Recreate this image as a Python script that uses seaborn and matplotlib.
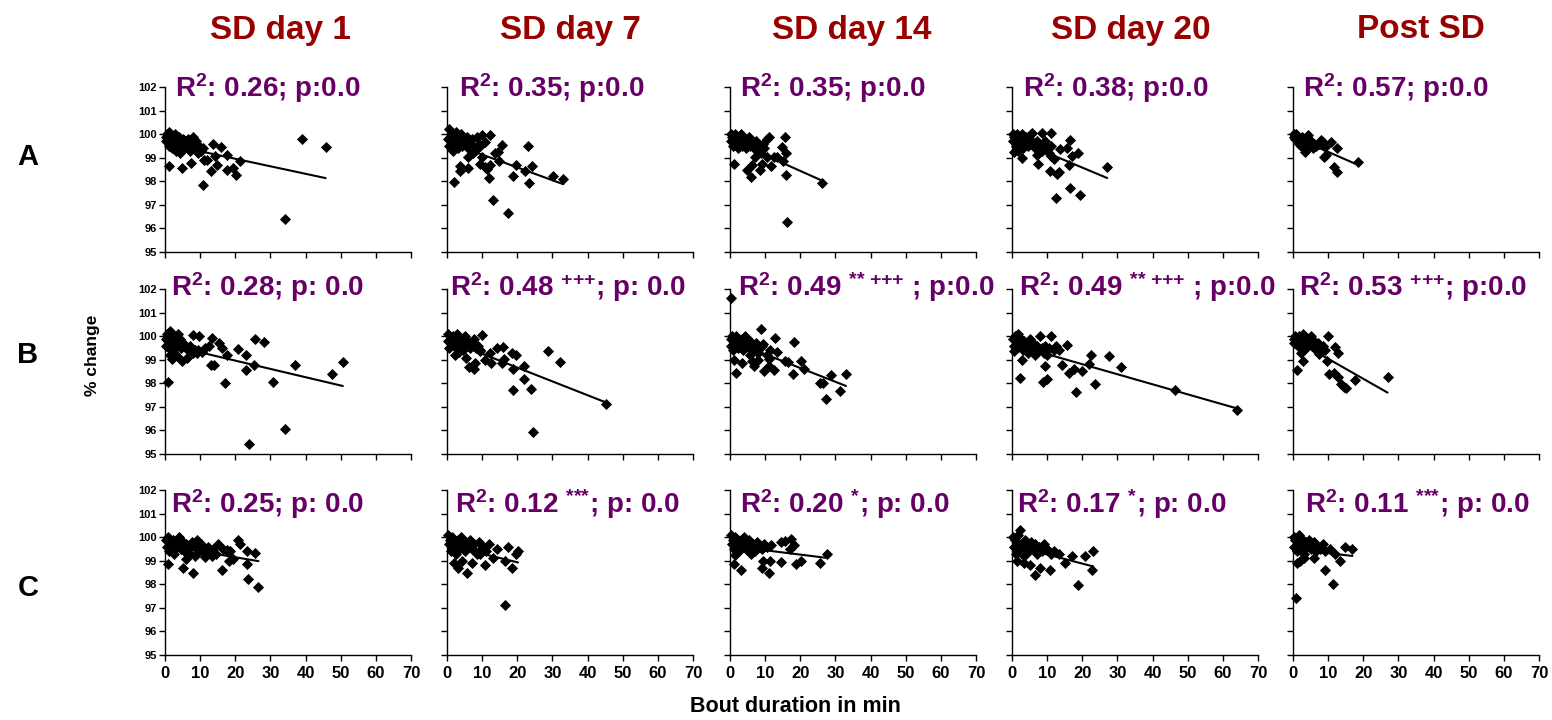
import matplotlib
matplotlib.use("Agg")
import matplotlib.pyplot as plt
import seaborn as sns
import pandas as pd

# ---------------------------------------------------------------- data
columns = ["SD day 1", "SD day 7", "SD day 14", "SD day 20", "Post SD"]
rows = ["A", "B", "C"]

# (bout duration in min, % change) per group and day
a_day1 = [(0.2, 99.9), (0.4, 99.7), (0.6, 100.0), (0.8, 99.8), (1.0, 99.5), (1.2, 100.1),
          (1.4, 99.7), (1.7, 99.9), (2.0, 99.4), (2.2, 99.8), (2.5, 99.6), (2.8, 100.0),
          (3.0, 99.3), (3.3, 99.7), (3.6, 99.5), (4.0, 99.9), (4.3, 99.2), (4.6, 99.6),
          (5.0, 99.8), (5.4, 99.4), (5.8, 99.7), (6.2, 99.5), (6.6, 99.8), (7.0, 99.3),
          (7.5, 99.6), (8.0, 99.9), (8.4, 99.4), (8.8, 99.7), (9.3, 99.2), (9.8, 99.5),
          (10.3, 99.3), (10.8, 99.4), (1.0, 98.66), (4.7, 98.58), (7.3, 98.76), (10.7, 97.84),
          (11.2, 98.9), (11.9, 98.9), (13.1, 98.45), (13.8, 99.6), (14.2, 99.07), (14.7, 98.7),
          (15.8, 99.44), (17.6, 98.48), (17.6, 99.1), (19.3, 98.58), (20.2, 98.26), (21.3, 98.87),
          (34.2, 96.38), (38.9, 99.78), (45.7, 99.44)]
a_day7 = [(0.3, 99.8), (0.5, 99.5), (0.7, 100.2), (0.9, 99.9), (1.1, 99.6), (1.4, 100.0),
          (1.7, 99.3), (2.0, 99.8), (2.3, 99.6), (2.6, 100.1), (3.0, 99.4), (3.3, 99.9),
          (3.6, 99.7), (4.0, 100.0), (4.4, 99.5), (4.8, 99.8), (5.2, 99.6), (5.6, 99.9),
          (6.0, 99.4), (6.5, 99.7), (7.0, 99.8), (7.5, 99.5), (8.0, 99.3), (8.5, 99.9),
          (9.0, 99.6), (9.5, 99.5), (10.0, 99.97), (10.9, 99.68), (12.1, 99.97), (1.5, 99.4),
          (1.9, 97.98), (3.6, 98.45), (3.8, 98.66), (6.1, 98.58), (6.1, 99.02), (7.4, 99.22),
          (9.5, 98.73), (9.9, 99.02), (10.7, 98.62), (11.4, 98.52), (12.0, 98.12), (12.1, 98.7),
          (12.96, 97.2), (13.7, 99.2), (14.4, 99.26), (14.9, 98.88), (15.6, 99.54), (17.5, 96.66),
          (18.9, 98.22), (19.6, 98.7), (22.2, 98.45), (23.0, 99.5), (23.4, 97.94), (24.1, 98.66),
          (30.1, 98.22), (33.1, 98.08)]
a_day14 = [(0.2, 100.0), (0.4, 99.7), (0.6, 99.9), (0.8, 99.5), (1.0, 99.8), (1.3, 100.0),
           (1.6, 99.6), (1.9, 99.8), (2.2, 99.4), (2.5, 99.9), (2.8, 99.7), (3.1, 100.0),
           (3.4, 99.5), (3.8, 99.8), (4.2, 99.6), (4.6, 99.4), (5.0, 99.7), (5.4, 99.9),
           (5.8, 99.5), (6.3, 99.6), (6.8, 99.4), (7.3, 99.7), (7.8, 99.3), (8.3, 99.5),
           (8.8, 99.2), (9.3, 99.6), (9.8, 99.4), (1.1, 98.72), (4.8, 98.48), (5.9, 98.19),
           (6.2, 98.69), (7.1, 99.02), (8.4, 98.5), (9.0, 98.72), (9.0, 99.33), (10.5, 99.78),
           (11.2, 99.9), (10.5, 99.05), (11.7, 98.65), (12.4, 99.02), (13.3, 99.02), (14.8, 99.44),
           (15.0, 98.84), (15.7, 99.9), (16.0, 99.22), (16.0, 98.26), (16.2, 96.28), (26.2, 97.94)]
a_day20 = [(0.2, 100.0), (0.4, 99.7), (0.7, 99.9), (1.0, 99.5), (1.3, 100.0), (1.6, 99.3),
           (2.0, 99.8), (2.4, 99.6), (2.8, 100.0), (3.2, 99.4), (3.6, 99.7), (4.0, 99.9),
           (4.5, 99.5), (5.0, 99.8), (5.5, 100.0), (6.0, 99.6), (6.5, 99.4), (7.0, 99.7),
           (7.5, 99.5), (8.0, 99.6), (8.5, 99.3), (9.0, 99.5), (9.5, 99.7), (10.0, 99.4),
           (10.5, 99.2), (11.0, 99.5), (0.5, 99.26), (2.9, 98.98), (5.7, 100.04), (8.6, 100.04),
           (11.1, 100.04), (7.1, 99.12), (7.4, 98.72), (10.8, 98.43), (13.3, 98.4), (12.7, 98.3),
           (12.6, 97.3), (13.8, 99.37), (15.7, 99.4), (16.5, 99.76), (16.5, 97.7), (16.2, 98.69),
           (17.1, 99.07), (18.8, 99.22), (19.3, 97.4), (11.9, 98.93), (11.0, 99.07), (27.1, 98.62)]
a_post = [(0.2, 100.0), (0.4, 99.9), (0.6, 99.8), (0.9, 100.0), (1.2, 99.7), (1.5, 99.9),
          (1.8, 99.6), (2.1, 99.8), (2.4, 99.5), (2.7, 99.9), (3.0, 99.7), (3.3, 99.4),
          (3.6, 99.8), (4.0, 99.6), (4.4, 99.97), (4.8, 99.5), (5.2, 99.7), (5.6, 99.4),
          (6.0, 99.6), (6.5, 99.5), (3.3, 99.26), (8.1, 99.76), (9.0, 99.47), (8.8, 99.02),
          (9.5, 99.1), (10.8, 99.68), (12.4, 99.4), (11.7, 98.62), (12.4, 98.4), (18.4, 98.8),
          (7.5, 99.6), (8.5, 99.65)]

b_day1 = [(0.2, 99.9), (0.4, 99.6), (0.6, 100.1), (0.9, 99.8), (1.2, 99.5), (1.5, 100.2),
          (1.8, 99.7), (2.1, 99.9), (2.4, 99.4), (2.7, 100.0), (3.0, 99.8), (3.4, 99.6),
          (3.8, 100.1), (4.2, 99.9), (4.6, 99.5), (5.0, 99.7), (5.5, 99.6), (6.0, 99.5),
          (6.5, 99.4), (7.0, 99.6), (7.5, 99.5), (8.0, 99.3), (8.6, 99.4), (9.2, 99.3),
          (0.9, 98.06), (1.9, 99.05), (1.4, 99.19), (2.8, 99.24), (3.3, 99.14), (4.7, 98.93),
          (6.2, 99.07), (7.9, 100.06), (9.8, 100.02), (9.3, 99.43), (10.4, 99.33), (11.4, 99.5),
          (13.0, 98.79), (14.0, 98.77), (13.3, 99.92), (12.6, 99.6), (15.5, 99.7), (16.1, 99.5),
          (17.1, 98.02), (17.6, 99.22), (20.9, 99.47), (23.1, 99.22), (23.1, 98.58), (23.9, 95.42),
          (25.3, 98.79), (25.6, 99.89), (28.2, 99.75), (30.6, 98.06), (34.2, 96.08), (37.0, 98.79),
          (47.4, 98.4), (50.6, 98.89)]
b_day7 = [(0.2, 100.1), (0.4, 99.8), (0.7, 99.5), (1.0, 99.9), (1.3, 99.7), (1.6, 100.0),
          (2.0, 99.6), (2.4, 99.8), (2.8, 100.1), (3.2, 99.5), (3.6, 99.9), (4.0, 99.7),
          (4.5, 99.4), (5.0, 100.0), (5.5, 99.6), (6.0, 99.8), (6.5, 99.5), (7.0, 99.7),
          (7.6, 99.9), (8.2, 99.5), (8.8, 99.6), (9.4, 99.4), (2.4, 99.21), (3.3, 99.33),
          (5.5, 99.07), (6.4, 98.68), (7.6, 98.61), (8.0, 98.84), (10.1, 100.06), (9.5, 99.38),
          (10.9, 99.0), (12.6, 98.84), (12.1, 99.29), (14.2, 99.5), (15.9, 99.52), (15.6, 98.84),
          (16.1, 99.03), (18.4, 99.29), (19.7, 99.19), (18.7, 98.61), (18.7, 97.7), (22.0, 98.2),
          (21.8, 98.75), (23.8, 97.74), (24.6, 95.94), (28.7, 99.38), (32.2, 98.89), (45.2, 97.13)]
b_day14 = [(0.2, 99.9), (0.4, 99.6), (0.6, 100.0), (0.9, 99.4), (1.2, 99.8), (1.5, 99.7),
           (1.8, 100.0), (2.2, 99.5), (2.6, 99.8), (3.0, 99.6), (3.4, 99.9), (3.8, 99.4),
           (4.3, 100.0), (4.8, 99.7), (5.3, 99.5), (5.8, 99.8), (6.3, 99.6), (6.8, 99.4),
           (7.3, 99.7), (7.9, 99.3), (8.5, 99.5), (9.1, 99.6), (0.2, 101.6), (1.1, 99.0),
           (1.7, 98.44), (3.3, 98.84), (6.2, 98.93), (6.7, 98.72), (5.7, 99.19), (8.1, 99.0),
           (8.9, 100.3), (9.5, 99.67), (9.8, 98.54), (11.0, 99.03), (11.2, 98.72), (12.4, 98.58),
           (12.9, 99.92), (13.3, 99.33), (15.7, 98.93), (16.4, 98.89), (18.1, 99.75), (17.9, 98.4),
           (20.2, 98.96), (21.1, 98.62), (25.7, 98.02), (26.4, 98.02), (27.4, 97.34), (28.8, 98.37),
           (31.2, 97.67), (33.0, 98.4), (11.5, 99.4), (10.5, 99.2)]
b_day20 = [(0.2, 99.9), (0.5, 99.6), (0.8, 100.0), (1.1, 99.8), (1.4, 99.5), (1.8, 100.1),
           (2.2, 99.7), (2.6, 99.9), (3.0, 99.4), (3.5, 99.8), (4.0, 99.6), (4.5, 99.3),
           (5.0, 99.9), (5.5, 99.5), (6.0, 99.7), (6.5, 99.2), (7.0, 99.6), (7.5, 99.4),
           (8.0, 100.0), (8.5, 99.5), (9.0, 99.3), (9.5, 99.6), (10.0, 99.2), (10.5, 99.5),
           (11.0, 100.0), (12.0, 99.4), (0.7, 99.38), (2.4, 98.23), (2.9, 99.0), (8.9, 98.06),
           (10.0, 98.19), (9.3, 98.75), (14.3, 98.79), (15.7, 99.64), (16.2, 98.44), (17.6, 98.62),
           (18.1, 97.64), (20.0, 98.51), (21.9, 98.82), (22.6, 99.22), (23.6, 97.98), (27.6, 99.14),
           (31.0, 98.69), (46.4, 97.71), (64.0, 96.87), (13.5, 99.4), (12.5, 99.6)]
b_post = [(0.2, 99.9), (0.4, 99.7), (0.7, 100.0), (1.0, 99.8), (1.3, 99.6), (1.6, 100.0),
          (2.0, 99.9), (2.4, 99.7), (2.8, 100.1), (3.2, 99.8), (3.6, 99.5), (4.0, 99.9),
          (4.5, 99.7), (5.0, 100.0), (5.5, 99.6), (6.0, 99.8), (6.6, 99.4), (7.2, 99.7),
          (7.8, 99.5), (8.4, 99.6), (9.0, 99.4), (1.1, 98.58), (2.2, 99.29), (2.9, 98.93),
          (7.4, 99.24), (9.7, 98.93), (10.0, 99.99), (10.3, 98.4), (11.7, 98.44), (11.9, 99.52),
          (12.7, 99.29), (12.9, 98.26), (13.8, 97.95), (15.0, 97.78), (17.6, 98.16), (26.9, 98.26),
          (14.5, 97.85)]

c_day1 = [(0.2, 99.9), (0.5, 99.6), (0.8, 100.0), (1.1, 99.4), (1.4, 99.8), (1.8, 99.5),
          (2.2, 99.9), (2.6, 99.3), (3.0, 99.7), (3.5, 99.6), (4.0, 100.0), (4.5, 99.5),
          (5.0, 99.8), (5.5, 99.4), (6.0, 99.7), (6.6, 99.5), (7.2, 99.3), (7.8, 99.8),
          (8.4, 99.6), (9.0, 99.9), (9.6, 99.4), (10.2, 99.7), (10.8, 99.5), (11.5, 99.3),
          (12.2, 99.6), (13.0, 99.4), (13.8, 99.5), (14.6, 99.3), (16.5, 99.5), (17.5, 99.4),
          (0.9, 98.87), (5.2, 98.69), (5.9, 99.06), (7.9, 98.49), (8.5, 99.18), (11.4, 99.16),
          (13.3, 99.18), (15.2, 99.72), (16.2, 98.59), (17.6, 99.44), (18.5, 99.41), (18.3, 98.98),
          (19.3, 99.08), (20.9, 99.87), (21.2, 99.72), (23.3, 99.41), (23.3, 98.87), (23.5, 98.23),
          (25.6, 99.33), (26.6, 97.9)]
c_day7 = [(0.2, 100.1), (0.5, 99.7), (0.8, 99.9), (1.1, 99.4), (1.4, 100.0), (1.8, 99.6),
          (2.2, 99.8), (2.6, 99.3), (3.0, 99.9), (3.5, 99.5), (4.0, 100.0), (4.5, 99.7),
          (5.0, 99.4), (5.5, 99.8), (6.0, 99.6), (6.6, 99.9), (7.2, 99.5), (7.8, 99.7),
          (8.4, 99.3), (9.0, 99.8), (9.6, 99.5), (10.2, 99.6), (11.0, 99.4), (12.0, 99.7),
          (5.7, 98.46), (4.3, 99.0), (9.4, 99.3), (10.8, 98.8), (14.2, 99.5), (17.4, 99.6),
          (16.5, 99.0), (18.5, 98.7), (20.2, 99.4), (16.5, 97.13), (2.0, 98.9), (3.0, 98.7),
          (7.0, 98.9), (13.0, 99.1), (19.5, 99.3)]
c_day14 = [(0.2, 100.1), (0.5, 99.7), (0.8, 99.9), (1.1, 99.5), (1.4, 100.0), (1.8, 99.7),
           (2.2, 99.9), (2.6, 99.4), (3.0, 99.8), (3.5, 99.6), (4.0, 100.0), (4.5, 99.5),
           (5.0, 99.8), (5.5, 99.9), (6.0, 99.6), (6.6, 99.7), (7.2, 99.4), (7.8, 99.8),
           (8.4, 99.6), (9.0, 99.5), (9.6, 99.7), (1.0, 98.87), (3.0, 98.61), (1.4, 99.23),
           (9.0, 98.7), (9.5, 99.0), (11.2, 98.47), (11.4, 99.0), (10.5, 99.58), (11.6, 99.65),
           (14.5, 99.8), (14.6, 98.94), (15.7, 99.84), (17.3, 99.94), (17.1, 99.5), (18.3, 99.65),
           (18.9, 98.87), (20.2, 99.0), (25.7, 98.9), (27.6, 99.27), (6.0, 99.3)]
c_day20 = [(0.2, 100.0), (0.5, 99.6), (0.8, 99.9), (1.1, 99.3), (1.4, 99.8), (1.8, 100.1),
           (2.3, 99.5), (2.8, 99.7), (3.3, 99.2), (3.8, 99.9), (4.3, 99.6), (4.8, 99.4),
           (5.4, 99.8), (6.0, 99.5), (6.6, 99.7), (7.2, 99.3), (7.8, 99.6), (8.5, 99.4),
           (9.2, 99.7), (10.0, 99.5), (11.0, 99.3), (12.0, 99.4), (2.3, 100.3), (10.9, 98.6),
           (17.1, 99.2), (18.9, 97.95), (20.9, 99.2), (22.9, 98.6), (23.1, 99.4), (6.6, 98.4),
           (9.4, 99.5), (5.1, 98.8), (1.5, 99.0), (3.5, 98.9), (13.5, 99.3), (15.0, 98.9),
           (8.0, 98.7)]
c_post = [(0.2, 100.0), (0.4, 99.6), (0.7, 99.9), (1.0, 99.4), (1.3, 99.8), (1.6, 100.1),
          (2.0, 99.5), (2.4, 99.7), (2.8, 99.9), (3.2, 99.3), (3.6, 99.8), (4.0, 99.6),
          (4.5, 99.9), (5.0, 99.5), (5.5, 99.7), (6.0, 99.8), (6.6, 99.4), (7.2, 99.6),
          (7.8, 99.5), (8.4, 99.7), (9.0, 99.4), (0.9, 97.4), (2.0, 99.0), (9.1, 98.6),
          (11.4, 98.0), (13.4, 99.0), (14.9, 99.6), (16.9, 99.5), (10.6, 99.5), (1.0, 98.9),
          (3.0, 99.1), (12.0, 99.3), (6.0, 99.1)]

panels = [[a_day1, a_day7, a_day14, a_day20, a_post],
          [b_day1, b_day7, b_day14, b_day20, b_post],
          [c_day1, c_day7, c_day14, c_day20, c_post]]

# regression statistics: R², significance marks (superscript), p value text
r_squared = [["0.26", "0.35", "0.35", "0.38", "0.57"],
             ["0.28", "0.48", "0.49", "0.49", "0.53"],
             ["0.25", "0.12", "0.20", "0.17", "0.11"]]
sig_marks = [["", "", "", "", ""],
             ["", "+++", "** +++", "** +++", "+++"],
             ["", "***", "*", "*", "***"]]
p_text = [["; p:0.0"] * 5,
          ["; p: 0.0", "; p: 0.0", " ; p:0.0", " ; p:0.0", "; p:0.0"],
          ["; p: 0.0"] * 5]

x_ticks = [0, 10, 20, 30, 40, 50, 60, 70]
y_ticks = [95, 96, 97, 98, 99, 100, 101, 102]

# ---------------------------------------------------------------- style
sns.set_style("ticks")
plt.rcParams["font.family"] = ["Liberation Sans", "DejaVu Sans"]
plt.rcParams["font.weight"] = "bold"
plt.rcParams["text.color"] = "black"
plt.rcParams["axes.labelcolor"] = "black"
plt.rcParams["xtick.color"] = "black"
plt.rcParams["ytick.color"] = "black"
plt.rcParams["mathtext.fontset"] = "custom"
plt.rcParams["mathtext.rm"] = "Liberation Sans:bold"
plt.rcParams["mathtext.bf"] = "Liberation Sans:bold"
plt.rcParams["mathtext.it"] = "Liberation Sans:bold"
plt.rcParams["mathtext.default"] = "bf"


def stat_label(r, c):
    """R² label with optional small superscript significance marks."""
    s = r"R$^2$: " + r_squared[r][c]
    marks = sig_marks[r][c]
    if marks:
        s += r" $^{\text{" + marks + "}}$"
    return s + p_text[r][c]


TITLE_RED = "#990000"
STAT_PURPLE = "#660066"

W, H = 1552, 720
fig = plt.figure(figsize=(W / 100, H / 100), dpi=100)

col_left = [165, 447, 730, 1012, 1293]
row_top = [87, 289, 490]
ax_w, ax_h = 246, 165
title_x = [280, 570, 852, 1131, 1421]
label_dx = [[10, 12, 10, 11, 10], [6, 3, 8, 7, 6], [6, 8, 10, 5, 12]]
label_dy = [-1, 2, -14]

for r in range(3):
    for c in range(5):
        left = col_left[c] / W
        bottom = 1 - (row_top[r] + ax_h) / H
        ax = fig.add_axes([left, bottom, ax_w / W, ax_h / H])
        df = pd.DataFrame(panels[r][c], columns=["bout", "change"])
        sns.regplot(data=df, x="bout", y="change", ax=ax, ci=None, marker="D",
                    color="black",
                    scatter_kws=dict(s=32, linewidths=0, clip_on=False, alpha=1),
                    line_kws=dict(lw=1.5, color="black"))
        ax.set_xlim(0, 70)
        ax.set_ylim(95, 102)
        ax.set_xticks(x_ticks)
        ax.set_yticks(y_ticks)
        ax.set_xlabel("")
        ax.set_ylabel("")
        sns.despine(ax=ax)
        for sp in ("left", "bottom"):
            ax.spines[sp].set_color("black")
            ax.spines[sp].set_linewidth(1.0)
        ax.tick_params(axis="both", direction="out", length=4, width=1, color="black",
                       labelcolor="black")
        ax.tick_params(axis="x", labelsize=12, pad=4)
        ax.tick_params(axis="y", labelsize=8, pad=2)
        if c != 0:
            ax.tick_params(labelleft=False)
        if r != 2:
            ax.tick_params(labelbottom=False)
        for t in ax.get_xticklabels() + ax.get_yticklabels():
            t.set_fontweight("bold")
        ax.annotate(stat_label(r, c), xy=(0, 1), xycoords="axes fraction",
                    xytext=(label_dx[r][c], label_dy[r]), textcoords="offset pixels",
                    ha="left", va="center", fontsize=20, color=STAT_PURPLE,
                    fontweight="bold", annotation_clip=False)

for c, name in enumerate(columns):
    fig.text(title_x[c] / W, 1 - 30 / H, name, ha="center", va="center",
             fontsize=24, color=TITLE_RED, fontweight="bold")

for r, name in enumerate(rows):
    ycen = [157, 355, 588][r]
    fig.text(28 / W, 1 - ycen / H, name, ha="center", va="center",
             fontsize=21, color="black", fontweight="bold")

fig.text(92 / W, 1 - 355 / H, "% change", rotation=90, ha="center", va="center",
         fontsize=12.5, fontweight="bold", color="black")
fig.text(795 / W, 1 - 707 / H, "Bout duration in min", ha="center", va="center",
         fontsize=15.5, fontweight="bold", color="black")

fig.savefig("out.png", dpi=100)
